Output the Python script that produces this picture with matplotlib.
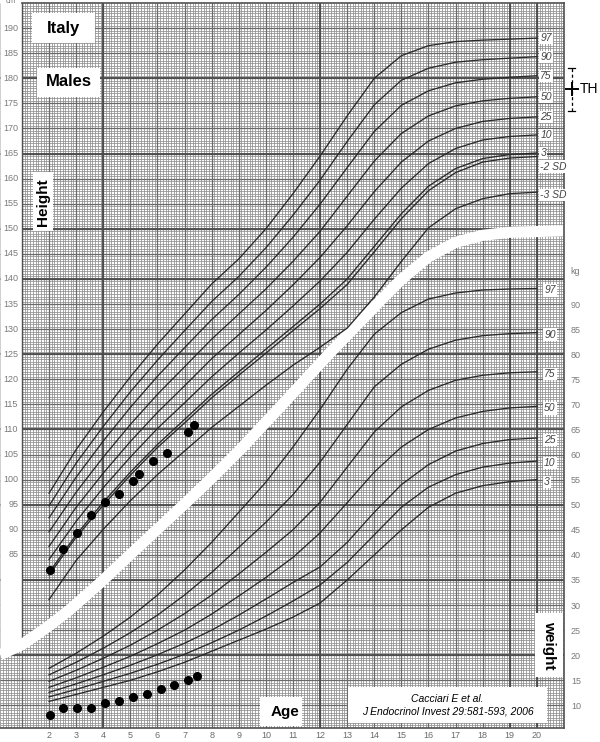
import numpy as np
import matplotlib.pyplot as plt
from matplotlib.patches import Rectangle

plt.rcParams['font.family'] = ['Liberation Sans', 'DejaVu Sans']

# ---- data ----
ages = list(range(2, 21))

# height percentiles (cm)
h97 = [97.3, 106, 113.5, 120.5, 127, 133, 139, 144, 150, 157, 164.5, 172.5, 180, 184.5, 186.5, 187.3, 187.6, 187.8, 188]
h90 = [94.8, 103.3, 110.6, 117.5, 123.8, 129.7, 135.5, 140.5, 146.2, 152.7, 159.7, 167.4, 174.7, 179.6, 182.0, 183.2, 183.7, 184.0, 184.3]
h75 = [92.4, 100.5, 107.7, 114.4, 120.6, 126.3, 131.9, 136.9, 142.3, 148.3, 154.9, 162.2, 169.4, 174.6, 177.5, 179.1, 179.8, 180.2, 180.5]
h50 = [89.6, 97.5, 104.5, 111, 117, 122.5, 128, 133, 138, 143.5, 149.5, 156.5, 163.5, 169, 172.5, 174.5, 175.5, 176, 176.3]
h25 = [86.7, 94.5, 101.3, 107.6, 113.4, 118.7, 124.1, 128.9, 133.7, 138.8, 144.3, 150.6, 157.4, 163.3, 167.5, 170.0, 171.4, 172.0, 172.3]
h10 = [84.1, 91.7, 98.4, 104.5, 110.2, 115.3, 120.5, 125.2, 129.8, 134.6, 139.6, 145.3, 151.9, 158.1, 163.0, 166.0, 167.7, 168.4, 168.7]
h3 = [81.5, 89, 95.5, 101.5, 107, 112, 117, 121.5, 126, 130.5, 135, 140, 146.5, 153, 158.5, 162, 164, 164.8, 165.1]
hm2 = [81.0, 88.5, 94.9, 100.9, 106.4, 111.3, 116.3, 120.8, 125.2, 129.7, 134.1, 138.9, 145.4, 152.0, 157.6, 161.2, 163.3, 164.1, 164.4]
hm3 = [76.1, 83.9, 90.1, 95.8, 101.0, 105.7, 110.4, 114.6, 118.8, 122.8, 126.4, 130.2, 136.4, 143.5, 150.2, 154.0, 156.0, 157.0, 157.3]
height_curves = [h97, h90, h75, h50, h25, h10, h3, hm2, hm3]
height_labels = ['97', '90', '75', '50', '25', '10', '3', '-2 SD', '-3 SD']

# weight percentiles (kg)
w97 = [17.4, 20.4, 23.8, 27.6, 32, 37, 42.5, 48.5, 54.5, 61.5, 69, 77, 84, 88.3, 91, 92.2, 92.8, 93.0, 93.1]
w90 = [16.1, 18.6, 21.4, 24.5, 28, 32, 36.5, 41.5, 46.5, 52, 58.5, 66, 73.5, 78, 81, 82.8, 83.7, 84.1, 84.3]
w75 = [14.8, 17, 19.4, 22, 25, 28.3, 32, 36.2, 40.5, 45, 50.5, 57.5, 64.5, 69.5, 72.8, 74.8, 75.8, 76.3, 76.5]
w50 = [13.6, 15.5, 17.6, 19.8, 22.3, 25, 28.2, 31.8, 35.5, 39.5, 44.4, 50.4, 56.5, 61.5, 65, 67.3, 68.6, 69.3, 69.6]
w25 = [12.6, 14.3, 16.1, 18, 20.1, 22.4, 25, 28, 31.2, 34.5, 37.6, 42.5, 48.5, 54, 58, 60.7, 62.2, 63, 63.3]
w10 = [11.7, 13.2, 14.8, 16.4, 18.2, 20.2, 22.5, 25, 27.8, 30.8, 34, 38.5, 44, 49.5, 53.5, 56, 57.5, 58.3, 58.7]
w3 = [10.8, 12.2, 13.6, 15.0, 16.7, 18.6, 20.8, 23.0, 25.2, 27.6, 30.4, 35, 40, 45, 49.5, 52.3, 53.8, 54.6, 55.0]
weight_curves = [w97, w90, w75, w50, w25, w10, w3]
weight_labels = ['97', '90', '75', '50', '25', '10', '3']

# patient measurements
pt_h_age = [2.03, 2.52, 3.02, 3.55, 4.06, 4.57, 5.08, 5.33, 5.85, 6.34, 7.11, 7.36]
pt_h_cm = [82.0, 86.1, 89.3, 92.9, 95.6, 97.2, 99.8, 101.1, 103.7, 105.3, 109.4, 110.8]
pt_w_age = [2.03, 2.52, 3.04, 3.55, 4.06, 4.58, 5.08, 5.6, 6.12, 6.61, 7.11, 7.47]
pt_w_kg = [8.1, 9.45, 9.45, 9.45, 10.45, 10.8, 11.6, 12.2, 13.2, 14.0, 15.0, 15.9]

# target height
th_cm = 177.8
th_lo, th_hi = 173.5, 182.0

# white separator band between the height and weight grids
band_age = [0.19, 1.0, 1.96, 2.77, 3.88, 5.1, 7.09, 7.94, 9.04, 10.7, 12.37, 13.5, 14.5, 15.0, 16.0, 17.0, 18.0, 19.0, 21.0]
band_cm = [65.1, 67.1, 70.7, 74.1, 79.4, 85.6, 95.6, 100.0, 105.9, 115.5, 125.3, 131.6, 137.2, 139.9, 144.4, 147.3, 148.7, 149.3, 149.6]

# ---- figure ----
W, H = 600, 742
fig = plt.figure(figsize=(W / 100, H / 100), dpi=100)
ax = fig.add_axes([0, 14 / H, 564 / W, 725 / H])
x0, x1 = 0.19, 21.0
y0, y1 = 50.5, 195.0
ax.set_xlim(x0, x1)
ax.set_ylim(y0, y1)
for s in ax.spines.values():
    s.set_visible(False)

# graph paper
ax.vlines(np.arange(0.2, 21.0, 0.1), y0, y1, color='#8e8e8e', lw=0.55, zorder=0)
ax.hlines(np.arange(51, 195, 0.5), x0, x1, color='#8e8e8e', lw=0.55, zorder=0)
ax.vlines(np.arange(1, 21), y0, y1, color='#6a6a6a', lw=0.9, zorder=0.5)
ax.hlines(np.arange(55, 195, 5), x0, x1, color='#6a6a6a', lw=0.9, zorder=0.5)
ax.vlines([4, 12, 19, 20], y0, y1, color='#4a4a4a', lw=1.3, zorder=0.6)
ax.hlines([180, 165, 150, 140, 125, 110, 95, 80, 65], x0, x1, color='#4a4a4a', lw=1.3, zorder=0.6)

# white area left of the height grid, above the band
b1 = np.interp(1.0, band_age, band_cm)
ax.fill_between([x0, 1.0], [band_cm[0], b1], y1 + 1, color='white', zorder=2, lw=0)
ax.plot([1, 1], [b1, y1], color='#505050', lw=1.0, zorder=2.1)
ax.plot(band_age, band_cm, color='white', lw=8, solid_capstyle='butt',
        solid_joinstyle='round', zorder=3)

# frame
ax.plot([1, x1], [y1, y1], color='#505050', lw=1.2, clip_on=False, zorder=4)
ax.plot([x1, x1], [y0, y1], color='#505050', lw=1.2, clip_on=False, zorder=4)
ax.plot([x0, x1], [y0, y0], color='#505050', lw=1.2, clip_on=False, zorder=4)

# height curves
for vals, lab in zip(height_curves, height_labels):
    ax.plot(ages, vals, color='#2a2a2a', lw=0.95, zorder=5)
    dy = -2.0 if lab == '-2 SD' else (-0.6 if lab == '-3 SD' else 0)
    ax.text(20.13, vals[-1] + dy, lab, fontsize=7.5, style='italic', color='#444444',
            ha='left', va='center', zorder=6,
            bbox=dict(facecolor='white', edgecolor='none', pad=0.8))
ax.plot(pt_h_age, pt_h_cm, 'o', color='black', ms=5.5, zorder=7)

# left tick labels (cm)
for v in range(85, 195, 5):
    ax.text(0.86, v, str(v), fontsize=6.5, color='#7a7a7a', ha='right', va='center', zorder=6)
ax.text(0.6, 195.2, 'cm', fontsize=5.5, color='#7a7a7a', ha='center', va='center', clip_on=False)

ax.set_yticks([])
ax.set_xticks(range(2, 21))
ax.tick_params(axis='x', length=0, labelsize=6.5, labelcolor='#6a6a6a', pad=2)

# weight scale on the same grid
axw = ax.twinx()
axw.set_ylim(y0 - 45, y1 - 45)
for s in axw.spines.values():
    s.set_visible(False)
axw.set_yticks(range(10, 95, 5))
axw.tick_params(axis='y', length=0, labelsize=6.5, labelcolor='#7a7a7a', pad=5)
axw.text(21.42, 96.4, 'kg', fontsize=6.5, color='#7a7a7a', ha='center', va='center', clip_on=False)

for vals, lab in zip(weight_curves, weight_labels):
    axw.plot(ages, vals, color='#2a2a2a', lw=0.95, zorder=5)
    axw.text(20.27, vals[-1] - 0.4, lab, fontsize=7.5, style='italic', color='#444444',
             ha='left', va='center', zorder=6,
             bbox=dict(facecolor='white', edgecolor='none', pad=0.8))
axw.plot(pt_w_age, pt_w_kg, 'o', color='black', ms=5.5, zorder=7)

# target height marker outside the grid
thx = 21.29
ax.plot([thx, thx], [th_lo, th_hi], color='black', lw=0.9, ls=(0, (2.5, 2)), clip_on=False)
ax.plot([thx - 0.13, thx + 0.13], [th_hi, th_hi], color='black', lw=0.9, clip_on=False)
ax.plot([thx - 0.13, thx + 0.13], [th_lo, th_lo], color='black', lw=0.9, clip_on=False)
ax.plot([thx, thx], [th_cm - 1.2, th_cm + 1.2], color='black', lw=1.4, clip_on=False)
ax.plot([thx - 0.22, thx + 0.22], [th_cm, th_cm], color='black', lw=1.4, clip_on=False)
ax.text(thx + 0.28, th_cm, 'TH', fontsize=10, color='black', ha='left', va='center', clip_on=False)


# text boxes (pixel positions of the original layout)
def box(xa, ya, xb, yb):
    fig.add_artist(Rectangle((xa / W, 1 - yb / H), (xb - xa) / W, (yb - ya) / H,
                             transform=fig.transFigure, facecolor='white',
                             edgecolor='none', zorder=10))


def label(x, y, s, **kw):
    fig.text(x / W, 1 - y / H, s, ha='center', va='center', zorder=11, **kw)


box(32, 13, 95, 43)
label(63, 28, 'Italy', fontsize=12, fontweight='bold')
box(37, 68, 100, 97)
label(69, 82, 'Males', fontsize=12, fontweight='bold')
box(33, 172, 53, 231)
label(43, 202, 'Height', fontsize=11, fontweight='bold', rotation=90)
box(260, 697, 302, 726)
label(285, 712, 'Age', fontsize=11, fontweight='bold')
box(535, 613, 563, 677)
label(549, 645, 'weight', fontsize=11, fontweight='bold', rotation=-90)
box(348, 687, 547, 723)
label(447, 699, 'Cacciari E et al.', fontsize=7.5, style='italic')
label(448, 712, 'J Endocrinol Invest 29:581-593, 2006', fontsize=7.5, style='italic')

fig.savefig('out.png', dpi=100)
